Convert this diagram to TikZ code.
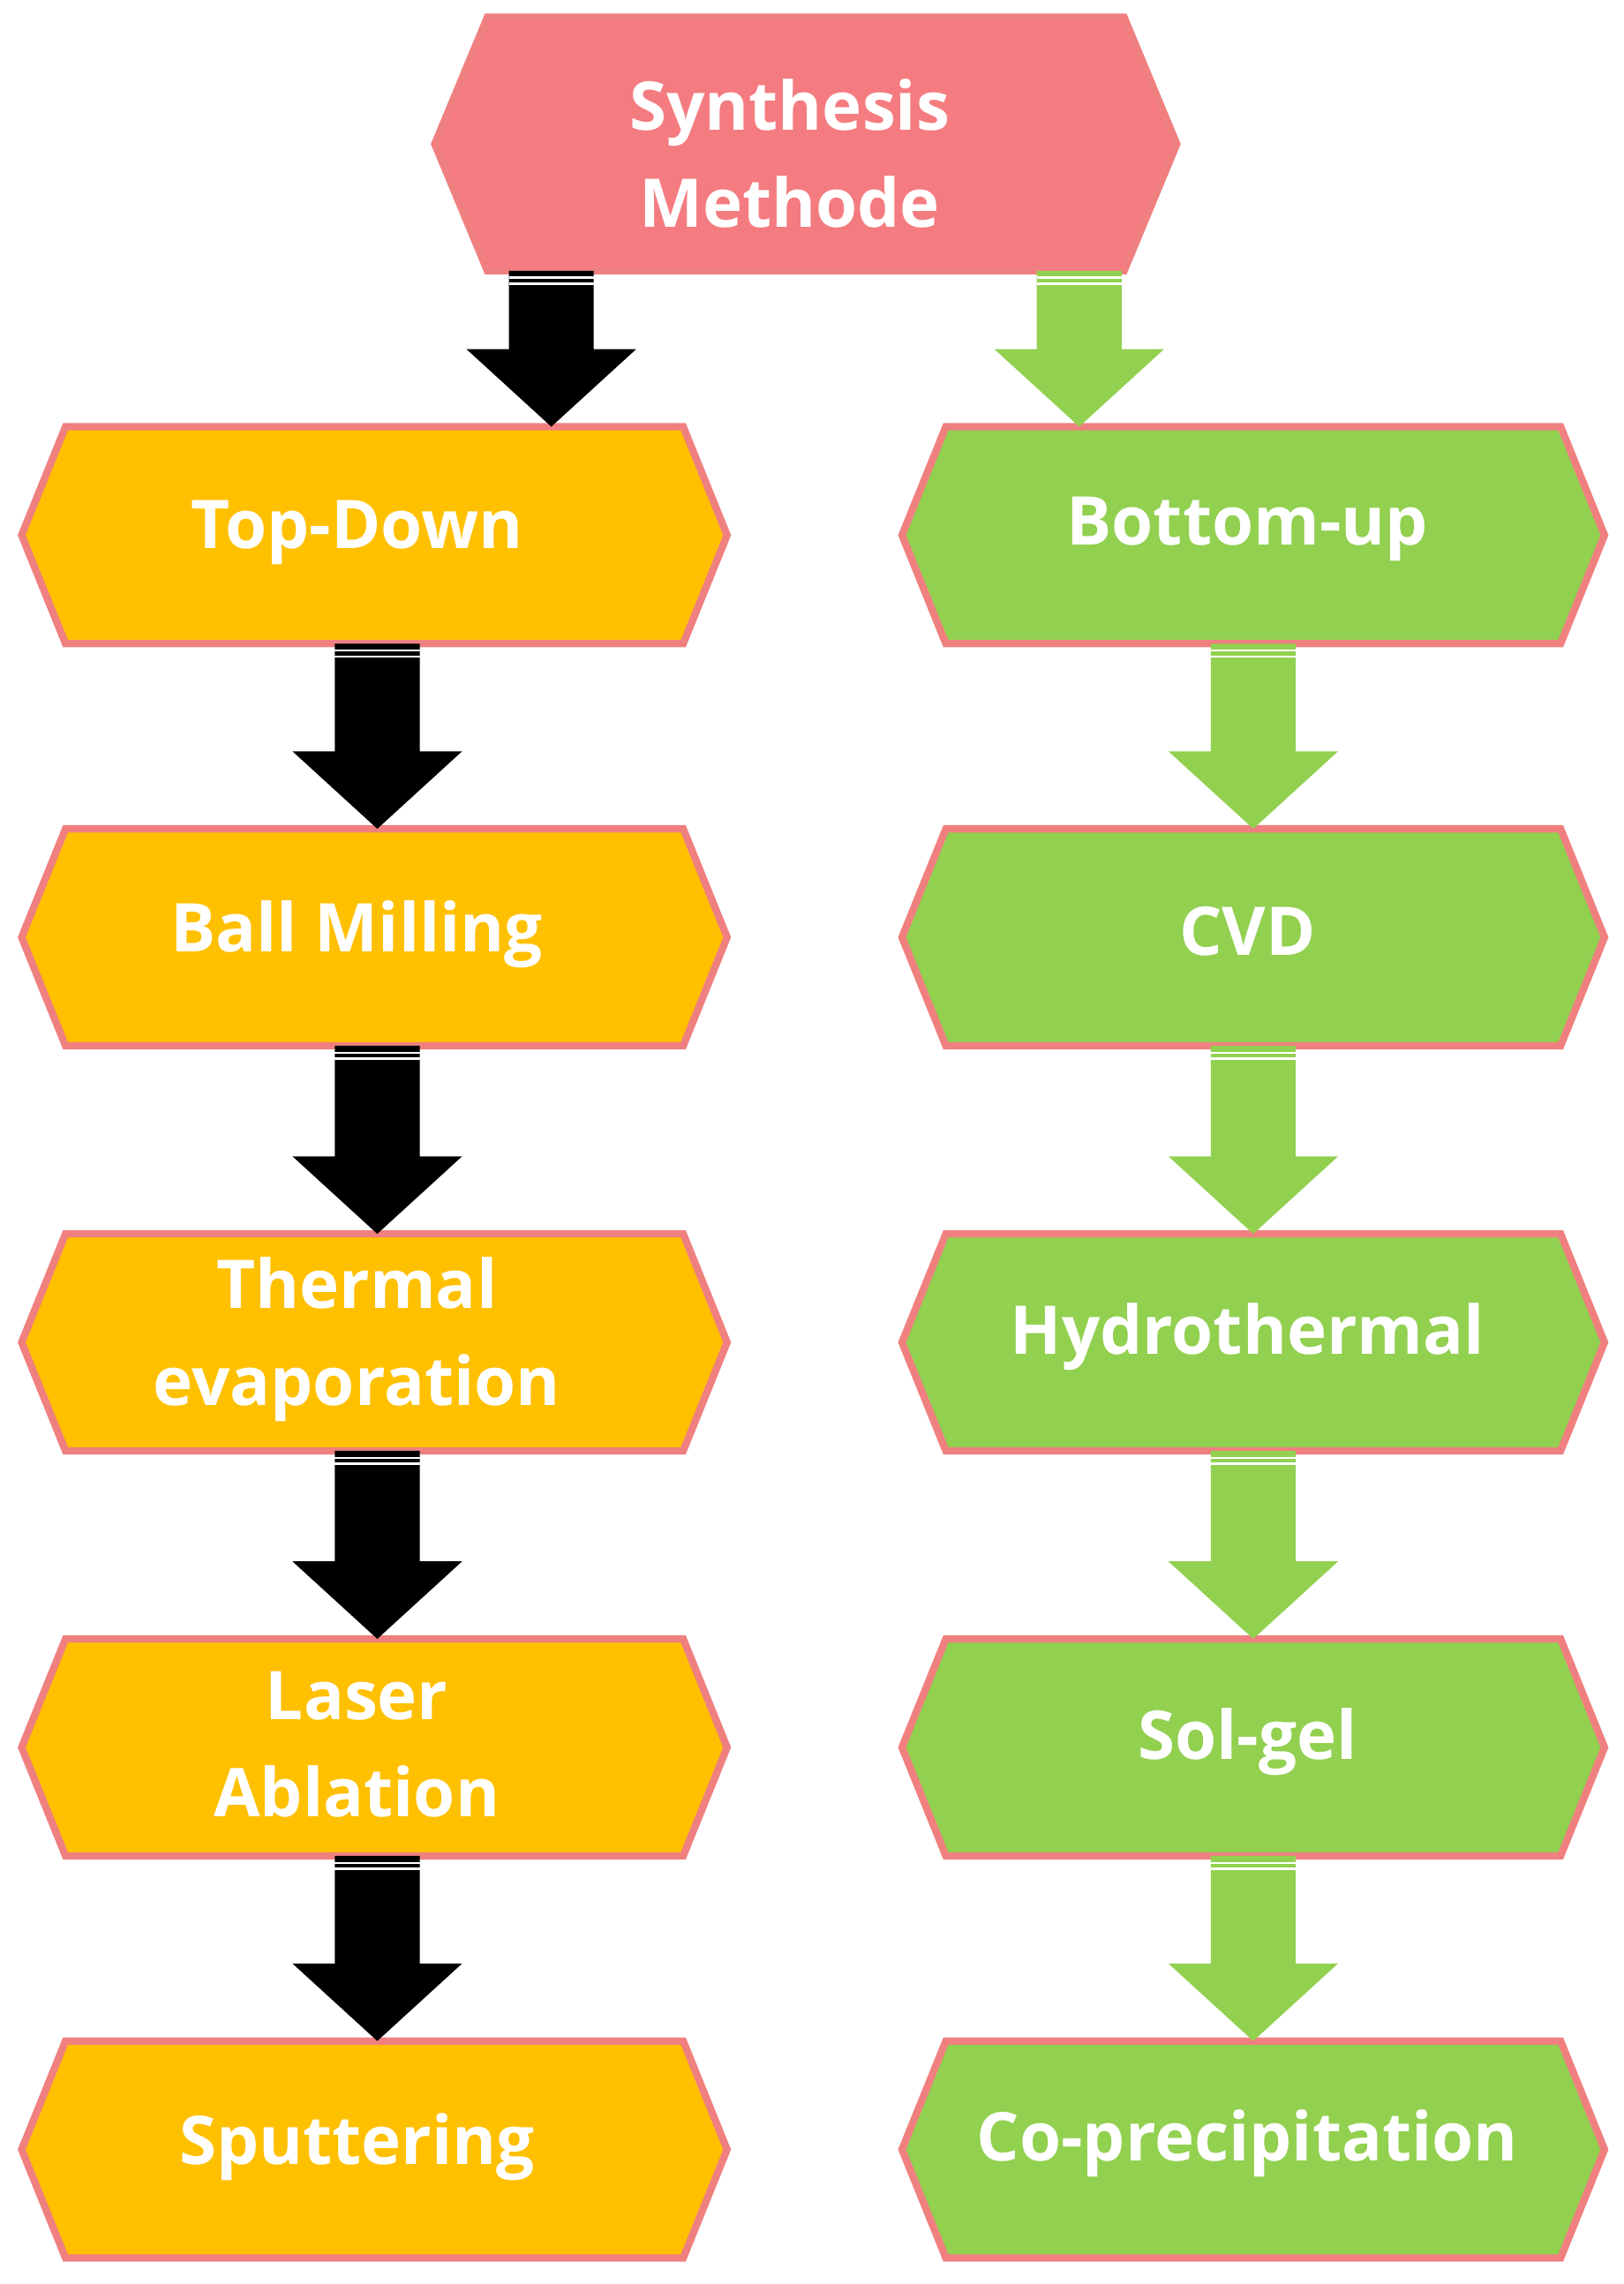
\documentclass[tikz,border=0pt]{standalone}
\usepackage{fontspec}
\setmainfont{Open Sans}
\usetikzlibrary{calc}
\definecolor{pinkf}{HTML}{F47C80}
\definecolor{edgec}{HTML}{F08080}
\definecolor{orangef}{HTML}{FFC000}
\definecolor{greenf}{HTML}{92D050}
\tikzset{
 box/.style={minimum width=482pt,minimum height=148pt,inner sep=0pt,align=center,
   font=\fontsize{46}{66}\selectfont\bfseries,text=white},
 hexfill/.style={line width=5pt,draw=edgec,line join=miter},
}
\newcommand{\hexdraw}[3]{% name, fill, bevel
 \filldraw[hexfill,fill=#2] (#1.west) -- ($(#1.north west)+(#3,0)$) -- ($(#1.north east)-(#3,0)$) -- (#1.east) -- ($(#1.south east)-(#3,0)$) -- ($(#1.south west)+(#3,0)$) -- cycle;}
\newcommand{\flowarrow}[4]{% from node, to node, x, color
 \fill[#4] let \p1=(#1.south), \p2=(#2.north) in
  (#3pt-29pt,\y1) -- (#3pt+29pt,\y1) -- (#3pt+29pt,\y2+53pt) -- (#3pt+58pt,\y2+53pt) -- (#3pt,\y2) -- (#3pt-58pt,\y2+53pt) -- (#3pt-29pt,\y2+53pt) -- cycle;
 \fill[white] let \p1=(#1.south) in (#3pt-29pt,\y1-4pt) rectangle (#3pt+29pt,\y1-5.5pt);
 \fill[white] let \p1=(#1.south) in (#3pt-29pt,\y1-8pt) rectangle (#3pt+29pt,\y1-9.5pt);
}
\begin{document}
\begin{tikzpicture}[x=1pt,y=-1pt]
\useasboundingbox[fill=white] (0,0) rectangle (1110,1562);
\node[box,minimum width=507pt,minimum height=173pt] (top) at (551,98.5) {};
\hexdraw{top}{pinkf}{36}
\node[box,draw=none] (topt) at (540,105) {Synthesis\\Methode};
\foreach \n/\t/\y in {td/Top-Down/366,bm/Ball Milling/641,te/Thermal\\evaporation/918,la/Laser\\Ablation/1195,sp/Sputtering/1470}{
 \node[box] (\n) at (256,\y) {};
 \hexdraw{\n}{orangef}{30}
 \node[box,draw=none] at ($(\n)+(-12,-2)$) {\t};
}
\foreach \n/\t/\y in {bu/Bottom-up/366,cvd/CVD/641,hy/Hydrothermal/918,sg/Sol-gel/1195,cp/Co-precipitation/1470}{
 \node[box,minimum width=480pt] (\n) at (857,\y) {};
 \hexdraw{\n}{greenf}{30}
 \node[box,draw=none] at ($(\n)+(-4,-4)$) {\t};
}
\flowarrow{top}{td}{377}{black}
\flowarrow{td}{bm}{258}{black}
\flowarrow{bm}{te}{258}{black}
\flowarrow{te}{la}{258}{black}
\flowarrow{la}{sp}{258}{black}
\flowarrow{top}{bu}{738}{greenf}
\flowarrow{bu}{cvd}{857}{greenf}
\flowarrow{cvd}{hy}{857}{greenf}
\flowarrow{hy}{sg}{857}{greenf}
\flowarrow{sg}{cp}{857}{greenf}
\end{tikzpicture}
\end{document}
